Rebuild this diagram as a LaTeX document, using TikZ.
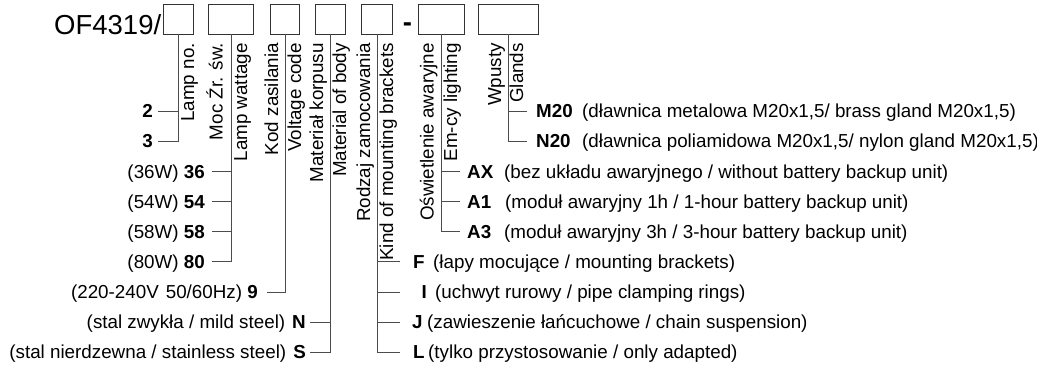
\documentclass[tikz,border=0pt]{standalone}
\usepackage{fontspec}
\setmainfont{Liberation Sans}
\begin{document}
\begin{tikzpicture}[x=1pt,y=-1pt,
  box/.style={draw=black!80, line width=0.8pt, minimum height=30pt, inner sep=0pt},
  conn/.style={draw=black!70, line width=0.8pt},
  txt/.style={inner sep=0pt, font=\fontsize{18.8}{22}\selectfont, text=black},
  rot/.style={txt, rotate=90, anchor=base east},
  lt/.style={txt, anchor=base east},
  rt/.style={txt, anchor=base west}]
\useasboundingbox (0,0) rectangle (1037,368);

% title and boxes
\node[txt, font=\fontsize{27.5}{32}\selectfont, anchor=base west] (title) at (54,34.5) {OF4319/};
\node[box, minimum width=30pt] (b1) at (178,19) {};
\node[box, minimum width=45pt] (b2) at (231,19) {};
\node[box, minimum width=29pt] (b3) at (285,19) {};
\node[box, minimum width=30pt] (b4) at (330,19) {};
\node[box, minimum width=31pt] (b5) at (377,19) {};
\node[txt, font=\fontsize{27.5}{32}\bfseries\selectfont, anchor=base] (dash) at (407.5,31) {-};
\node[box, minimum width=46pt] (b6) at (441,19) {};
\node[box, minimum width=60pt] (b7) at (508,19) {};

% rotated labels
\node[rot] (r1a) at (194,43) {Lamp no.};
\node[rot] (r2a) at (222.5,43) {Moc Źr. św.};
\node[rot] (r2b) at (247,43) {Lamp wattage};
\node[rot] (r3a) at (278,43) {Kod zasilania};
\node[rot] (r3b) at (301,43) {Voltage code};
\node[rot] (r4a) at (323,43) {Materiał korpusu};
\node[rot] (r4b) at (346,43) {Material of body};
\node[rot] (r5a) at (370,43) {Rodzaj zamocowania};
\node[rot] (r5b) at (393,43) {Kind of mounting brackets};
\node[rot] (r6a) at (433.5,43) {Oświetlenie awaryjne};
\node[rot] (r6b) at (457,43) {Em-cy lighting};
\node[rot] (r7a) at (501,43) {Wpusty};
\node[rot] (r7b) at (523,43) {Glands};

% left side: line ends
\coordinate (l2) at (158,111);
\coordinate (l3) at (158,141);
\coordinate (l36) at (212,171.5);
\coordinate (l54) at (212,201.5);
\coordinate (l58) at (212,231.5);
\coordinate (l80) at (212,261.5);
\coordinate (l9) at (267,292);
\coordinate (lN) at (310,322);
\coordinate (lS) at (310,352);

\draw[conn] (b1.south) |- (l3);
\draw[conn] (l2) -- (l2 -| b1.south);
\draw[conn] (b2.south) |- (l80);
\draw[conn] (l36) -- (l36 -| b2.south);
\draw[conn] (l54) -- (l54 -| b2.south);
\draw[conn] (l58) -- (l58 -| b2.south);
\draw[conn] (b3.south) |- (l9);
\draw[conn] (b4.south) |- (lS);
\draw[conn] (lN) -- (lN -| b4.south);

\node[lt] (t2) at (153,117.7) {\textbf{2}};
\node[lt] (t3) at (153,147.7) {\textbf{3}};
\node[lt] (t36) at (205,178.2) {(36W) \textbf{36}};
\node[lt] (t54) at (205,208.2) {(54W) \textbf{54}};
\node[lt] (t58) at (205,238.2) {(58W) \textbf{58}};
\node[lt] (t80) at (205,268.2) {(80W) \textbf{80}};
\node[lt] (t9) at (258,298.7) {(220-240V\hspace{7pt}50/60Hz) \textbf{9}};
\node[lt] (tN) at (306,328.7) {(stal zwykła / mild steel)\hspace{7pt}\textbf{N}};
\node[lt] (tS) at (306,358.7) {(stal nierdzewna / stainless steel)\hspace{7pt}\textbf{S}};

% right side: line ends
\coordinate (eM) at (527,111);
\coordinate (eN2) at (527,141);
\coordinate (eAX) at (460,171.5);
\coordinate (eA1) at (460,201.5);
\coordinate (eA3) at (460,231.5);
\coordinate (eF) at (400,261.5);
\coordinate (eI) at (400,292);
\coordinate (eJ) at (400,322);
\coordinate (eL) at (400,352);

\draw[conn] (b7.south) |- (eN2);
\draw[conn] (eM -| b7.south) -- (eM);
\draw[conn] (b6.south) |- (eA3);
\draw[conn] (eAX -| b6.south) -- (eAX);
\draw[conn] (eA1 -| b6.south) -- (eA1);
\draw[conn] (b5.south) |- (eL);
\draw[conn] (eF -| b5.south) -- (eF);
\draw[conn] (eI -| b5.south) -- (eI);
\draw[conn] (eJ -| b5.south) -- (eJ);

\node[rt] (cM) at (536,117.7) {\textbf{M20}};
\node[rt] (dM) at (582,117.7) {(dławnica metalowa M20x1,5/ brass gland M20x1,5)};
\node[rt] (cN2) at (536,147.7) {\textbf{N20}};
\node[rt] (dN2) at (582,147.7) {(dławnica poliamidowa M20x1,5/ nylon gland M20x1,5)};
\node[rt] (cAX) at (467,178.2) {\textbf{AX}};
\node[rt] (dAX) at (504,178.2) {(bez układu awaryjnego / without battery backup unit)};
\node[rt] (cA1) at (467,208.2) {\textbf{A1}};
\node[rt] (dA1) at (505,208.2) {(moduł awaryjny 1h / 1-hour battery backup unit)};
\node[rt] (cA3) at (467,238.2) {\textbf{A3}};
\node[rt] (dA3) at (504,238.2) {(moduł awaryjny 3h / 3-hour battery backup unit)};
\node[rt] (cF) at (413,268.2) {\textbf{F}};
\node[rt] (dF) at (433,268.2) {(łapy mocujące / mounting brackets)};
\node[rt] (cI) at (421.5,298.7) {\textbf{I}};
\node[rt] (dI) at (435,298.7) {(uchwyt rurowy / pipe clamping rings)};
\node[rt] (cJ) at (412,328.7) {\textbf{J}};
\node[rt] (dJ) at (427,328.7) {(zawieszenie łańcuchowe / chain suspension)};
\node[rt] (cL) at (413,358.7) {\textbf{L}};
\node[rt] (dL) at (428,358.7) {(tylko przystosowanie / only adapted)};
\end{tikzpicture}
\end{document}
